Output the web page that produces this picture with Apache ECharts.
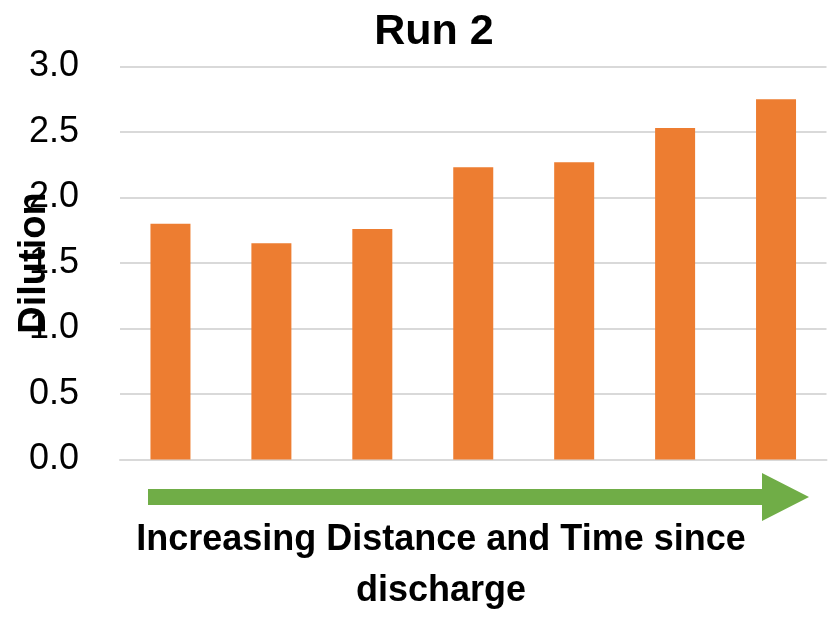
<!DOCTYPE html>
<html>
<head>
<meta charset="utf-8">
<script src="https://cdn.jsdelivr.net/npm/echarts@6/dist/echarts.min.js"></script>
<style>
  html, body { margin: 0; padding: 0; background: #fff; }
  #chart { width: 828px; height: 619px; }
</style>
</head>
<body>
<div id="chart"></div>
<script>
// Sampling stations, ordered by distance/time since discharge
const categories = ['1', '2', '3', '4', '5', '6', '7'];
// Measured dilution at each station
const dilution = [1.80, 1.65, 1.76, 2.23, 2.27, 2.53, 2.75];
// Value axis range and step
const yMin = 0;
const yMax = 3;
const yStep = 0.5;

const FONT = '"Liberation Sans", Arial, sans-serif';
const chart = echarts.init(document.getElementById('chart'), null, { renderer: 'canvas' });

chart.setOption({
  animation: false,
  backgroundColor: '#ffffff',
  title: {
    text: 'Run 2',
    left: 429,
    top: 6,
    textAlign: 'center',
    textStyle: { fontFamily: FONT, fontSize: 43, fontWeight: 'bold', color: '#000' }
  },
  grid: {
    left: 120, right: 1.5, top: 66.5, bottom: 159.5,
    containLabel: false,
    outerBoundsMode: 'none'
  },
  xAxis: {
    type: 'category',
    data: categories,
    axisLine: { show: true, lineStyle: { color: '#d9d9d9', width: 2 } },
    axisTick: { show: false },
    axisLabel: { show: false }
  },
  yAxis: {
    type: 'value',
    min: yMin,
    max: yMax,
    interval: yStep,
    name: 'Dilution',
    nameLocation: 'middle',
    nameRotate: 90,
    nameGap: 66,
    nameMoveOverlap: false,
    nameTextStyle: { fontFamily: FONT, fontSize: 38, fontWeight: 'bold', color: '#000' },
    axisLine: { show: false },
    axisTick: { show: false },
    splitLine: { lineStyle: { color: '#d9d9d9', width: 2 } },
    axisLabel: {
      margin: 41,
      fontFamily: FONT,
      fontSize: 36,
      color: '#000',
      padding: [12, 0, 0, 0],
      formatter: v => v.toFixed(1)
    }
  },
  series: [{
    type: 'bar',
    data: dilution,
    barWidth: 40,
    itemStyle: { color: '#ed7d31' }
  }],
  graphic: [
    {
      // direction arrow below the bars
      type: 'polygon',
      shape: {
        points: [[148, 489], [762, 489], [762, 473], [809, 497], [762, 521], [762, 505], [148, 505]]
      },
      style: { fill: '#70ad47' }
    },
    {
      type: 'text',
      x: 441,
      y: 565.5,
      style: {
        text: 'Increasing Distance and Time since\ndischarge',
        fontFamily: FONT,
        fontSize: 36,
        fontWeight: 'bold',
        fill: '#000',
        align: 'center',
        verticalAlign: 'middle',
        lineHeight: 51
      }
    }
  ]
});
</script>
</body>
</html>
